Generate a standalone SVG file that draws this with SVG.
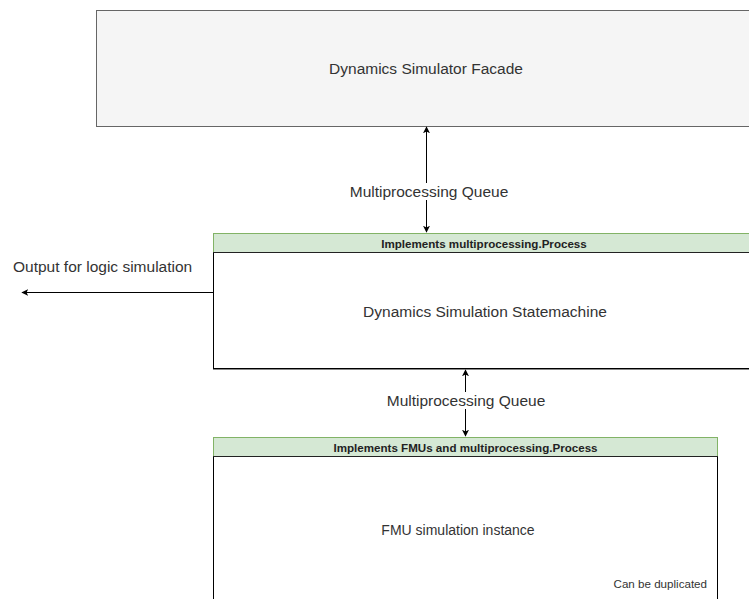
<svg xmlns="http://www.w3.org/2000/svg" width="749" height="599" viewBox="0 0 749 599">
<style>
  text { font-family: "Liberation Sans", Arial, sans-serif; fill: #333333; }
  .main { font-size: 15.5px; text-anchor: middle; }
  .hdr { font-size: 11.6px; font-weight: bold; text-anchor: middle; fill: #222222; }
  .small { font-size: 11.6px; text-anchor: end; }
  .edge { stroke: #000000; stroke-width: 1; fill: none; }
  .green { fill: #d5e8d4; stroke: #82b366; stroke-width: 1; }
  .body { fill: #ffffff; stroke: #000000; stroke-width: 1; }
</style>
<defs>
  <marker id="ah" viewBox="0 0 10 10" refX="9" refY="5" markerWidth="7" markerHeight="7" orient="auto-start-reverse" markerUnits="userSpaceOnUse">
    <path d="M0,0 L10,5 L0,10 L2.5,5 Z" fill="#000000"/>
  </marker>
</defs>
<rect width="749" height="599" fill="#ffffff"/>
<g id="facade">
  <rect x="96.5" y="10.5" width="670" height="116" fill="#f5f5f5" stroke="#666666"/>
  <text class="main" x="426" y="74">Dynamics Simulator Facade</text>
</g>
<g id="statemachine">
  <rect x="213.5" y="252.5" width="550" height="116" class="body"/>
  <line x1="213" y1="369.5" x2="749" y2="369.5" stroke="#888888" stroke-width="1"/>
  <rect x="213.5" y="233.5" width="550" height="19" class="green"/>
  <line x1="213" y1="252.5" x2="749" y2="252.5" stroke="#222222"/>
  <text class="hdr" x="484" y="247.5">Implements multiprocessing.Process</text>
  <text class="main" x="485" y="317">Dynamics Simulation Statemachine</text>
</g>
<g id="fmu">
  <rect x="213.5" y="456.5" width="504" height="160" class="body"/>
  <rect x="213.5" y="437.5" width="504" height="19" class="green"/>
  <line x1="213" y1="456.5" x2="718" y2="456.5" stroke="#222222"/>
  <text class="hdr" x="465.5" y="451.5">Implements FMUs and multiprocessing.Process</text>
  <text class="main" x="458" y="535" style="font-size:14px">FMU simulation instance</text>
  <text class="small" x="707" y="588">Can be duplicated</text>
</g>
<g id="connectors">
  <line class="edge" x1="426.5" y1="127" x2="426.5" y2="232" marker-start="url(#ah)" marker-end="url(#ah)"/>
  <rect x="348" y="183" width="162" height="17" fill="#ffffff"/>
  <text class="main" x="429" y="197">Multiprocessing Queue</text>
  <line class="edge" x1="465.5" y1="370" x2="465.5" y2="436" marker-start="url(#ah)" marker-end="url(#ah)"/>
  <rect x="386" y="392" width="162" height="17" fill="#ffffff"/>
  <text class="main" x="466" y="406">Multiprocessing Queue</text>
  <line class="edge" x1="213" y1="292.5" x2="22" y2="292.5" marker-end="url(#ah)"/>
  <text class="main" x="13" y="272" style="text-anchor:start">Output for logic simulation</text>
</g>
</svg>
